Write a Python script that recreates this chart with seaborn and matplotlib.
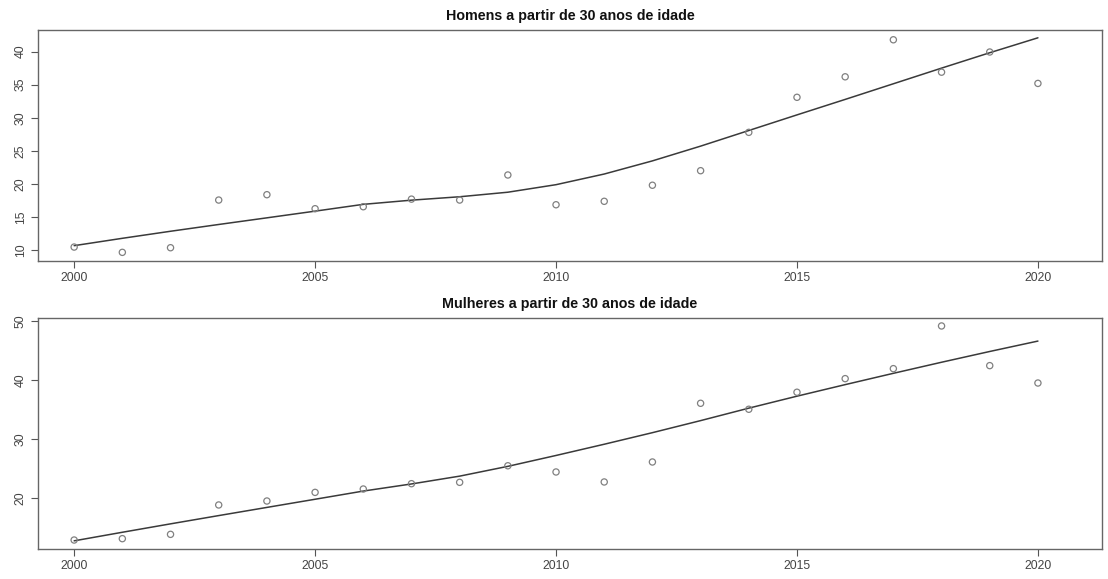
import numpy as np
import pandas as pd
import matplotlib
matplotlib.use("Agg")
import matplotlib.pyplot as plt
import seaborn as sns

# Annual rates by sex, people aged 30 and over
anos = list(range(2000, 2021))
homens = [10.45, 9.65, 10.35, 17.56, 18.37, 16.25, 16.55, 17.70, 17.56, 21.35,
          16.85, 17.37, 19.80, 22.00, 27.80, 33.10, 36.20, 41.80, 36.90, 39.95, 35.20]
mulheres = [12.94, 13.17, 13.90, 18.87, 19.54, 21.00, 21.57, 22.47, 22.70, 25.50,
            24.45, 22.76, 26.14, 36.07, 35.06, 37.94, 40.24, 41.93, 49.15, 42.44, 39.50]
titulos = ["Homens a partir de 30 anos de idade", "Mulheres a partir de 30 anos de idade"]
xticks = [2000, 2005, 2010, 2015, 2020]
yticks_h = [10, 15, 20, 25, 30, 35, 40]
yticks_m = [20, 30, 40, 50]


def lowess(x, y, f=2 / 3, iters=3):
    """Locally weighted regression smoother (Cleveland 1979)."""
    x = np.asarray(x, float)
    y = np.asarray(y, float)
    n = len(x)
    ns = max(min(int(f * n + 1e-7), n), 2)
    rw = np.ones(n)
    ys = np.zeros(n)
    for it in range(iters + 1):
        for i in range(n):
            d = np.abs(x - x[i])
            h = np.sort(d)[ns - 1]
            r = d / h if h > 0 else np.zeros(n)
            w = np.where(r < 1, (1 - r ** 3) ** 3, 0.0)
            w = np.where(d <= 0.001 * h, 1.0, w)
            w = w * rw
            sw = w.sum()
            if sw <= 0:
                ys[i] = y[i]
                continue
            wn = w / sw
            xm = np.sum(wn * x)
            ym = np.sum(wn * y)
            c = np.sum(wn * (x - xm) ** 2)
            if np.sqrt(c) > 0.001 * (x.max() - x.min()):
                b = np.sum(wn * (x - xm) * (y - ym)) / c
                ys[i] = ym + b * (x[i] - xm)
            else:
                ys[i] = ym
        if it == iters:
            break
        res = y - ys
        cmad = 6 * np.median(np.abs(res))
        if cmad == 0:
            break
        u = np.abs(res) / cmad
        rw = np.where(u < 1, (1 - u ** 2) ** 2, 0.0)
    return ys


sns.set_style("white")
plt.rcParams["font.family"] = ["Liberation Sans", "DejaVu Sans"]

fig = plt.figure(figsize=(11.08, 5.79), dpi=100)
ax1 = fig.add_axes([0.0343, 0.5492, 0.9603, 0.3990])
ax2 = fig.add_axes([0.0343, 0.0518, 0.9603, 0.3990])

paineis = [
    (ax1, homens, titulos[0], yticks_h, (8.34, 43.28)),
    (ax2, mulheres, titulos[1], yticks_m, (11.42, 50.5)),
]

for ax, valores, titulo, yt, ylim in paineis:
    df = pd.DataFrame({"ano": anos, "valor": valores})
    df["suave"] = lowess(df["ano"], df["valor"])
    sns.scatterplot(data=df, x="ano", y="valor", ax=ax, marker="o",
                    facecolors="none", edgecolor="#808080", linewidth=0.9,
                    s=20, zorder=3)
    sns.lineplot(data=df, x="ano", y="suave", ax=ax, color="#3a3a3a",
                 linewidth=1.1, zorder=2)
    ax.set_xlim(1999.25, 2021.33)
    ax.set_ylim(*ylim)
    ax.set_xticks(xticks)
    ax.set_yticks(yt)
    ax.set_xlabel("")
    ax.set_ylabel("")
    ax.tick_params(axis="both", direction="out", length=5, width=0.8,
                   color="#555555", labelsize=8.8, labelcolor="#444444",
                   bottom=True, left=True, pad=3)
    for lab in ax.get_yticklabels():
        lab.set_rotation(90)
        lab.set_va("center")
    for sp in ax.spines.values():
        sp.set_color("#666666")
        sp.set_linewidth(1.0)
    ax.set_title(titulo, fontsize=10.3, fontweight="bold", color="#111111", pad=7)

fig.savefig("out.png", dpi=100, facecolor="white")
